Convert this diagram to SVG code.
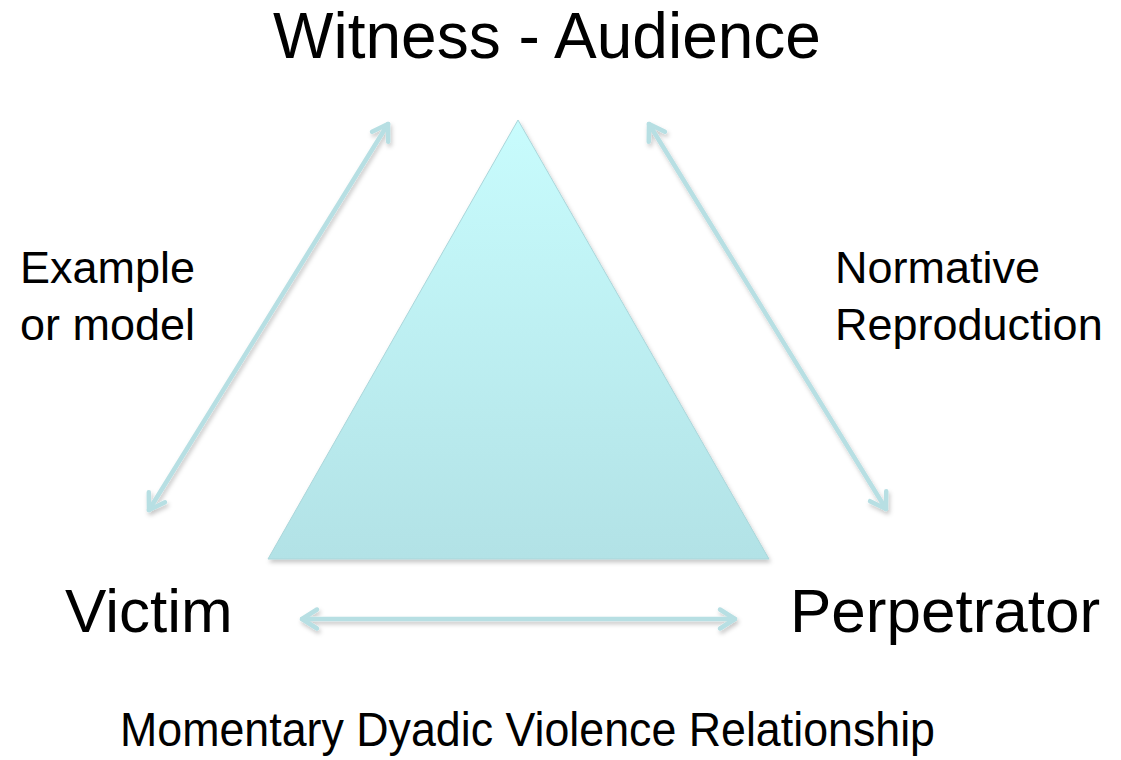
<svg xmlns="http://www.w3.org/2000/svg" width="1121" height="760" viewBox="0 0 1121 760">
  <style>
    text { font-family: "Liberation Sans", Arial, sans-serif; fill: #000; }
    .big { font-size: 62px; }
    .side { font-size: 45px; }
    .conn { stroke: #b7dfe3; stroke-width: 4.5; fill: none; stroke-linecap: round; }
  </style>
  <defs>
    <linearGradient id="triFill" x1="0" y1="0" x2="0" y2="1">
      <stop offset="0" stop-color="#c8fcfd"/>
      <stop offset="1" stop-color="#b2e2e6"/>
    </linearGradient>
    <filter id="shadow" x="-10%" y="-10%" width="130%" height="130%">
      <feDropShadow dx="1.5" dy="3" stdDeviation="2" flood-color="#000" flood-opacity="0.22"/>
    </filter>
    <marker id="chev" viewBox="-20 -14 26 28" markerUnits="userSpaceOnUse" markerWidth="26" markerHeight="28" refX="0" refY="0" orient="auto-start-reverse">
      <path d="M-15,-9.5 L0,0 L-15,9.5" fill="none" stroke="#b7dfe3" stroke-width="4.5" stroke-linecap="round" stroke-linejoin="round"/>
    </marker>
  </defs>
  <rect width="1121" height="760" fill="#fff"/>

  <g id="triangle">
    <polygon points="518,120 268,559 769,559" fill="url(#triFill)" stroke="#aad6da" stroke-width="1" filter="url(#shadow)"/>
  </g>

  <g id="connectors" filter="url(#shadow)">
    <line class="conn" x1="149" y1="510" x2="388" y2="124" marker-start="url(#chev)" marker-end="url(#chev)"/>
    <line class="conn" x1="649" y1="124" x2="886" y2="509" marker-start="url(#chev)" marker-end="url(#chev)"/>
    <line class="conn" x1="302" y1="619" x2="735" y2="619" marker-start="url(#chev)" marker-end="url(#chev)"/>
  </g>

  <g id="witness-audience">
    <text x="547" y="58" font-size="64" text-anchor="middle">Witness - Audience</text>
  </g>
  <g id="victim">
    <text class="big" x="65" y="632">Victim</text>
  </g>
  <g id="perpetrator">
    <text class="big" x="790" y="632">Perpetrator</text>
  </g>
  <g id="label-example">
    <text class="side" x="20" y="283">Example</text>
    <text class="side" x="20" y="340">or model</text>
  </g>
  <g id="label-normative">
    <text class="side" x="835" y="283">Normative</text>
    <text class="side" x="835" y="340">Reproduction</text>
  </g>
  <g id="caption">
    <text x="120" y="746" font-size="49" textLength="815" lengthAdjust="spacingAndGlyphs">Momentary Dyadic Violence Relationship</text>
  </g>
</svg>
